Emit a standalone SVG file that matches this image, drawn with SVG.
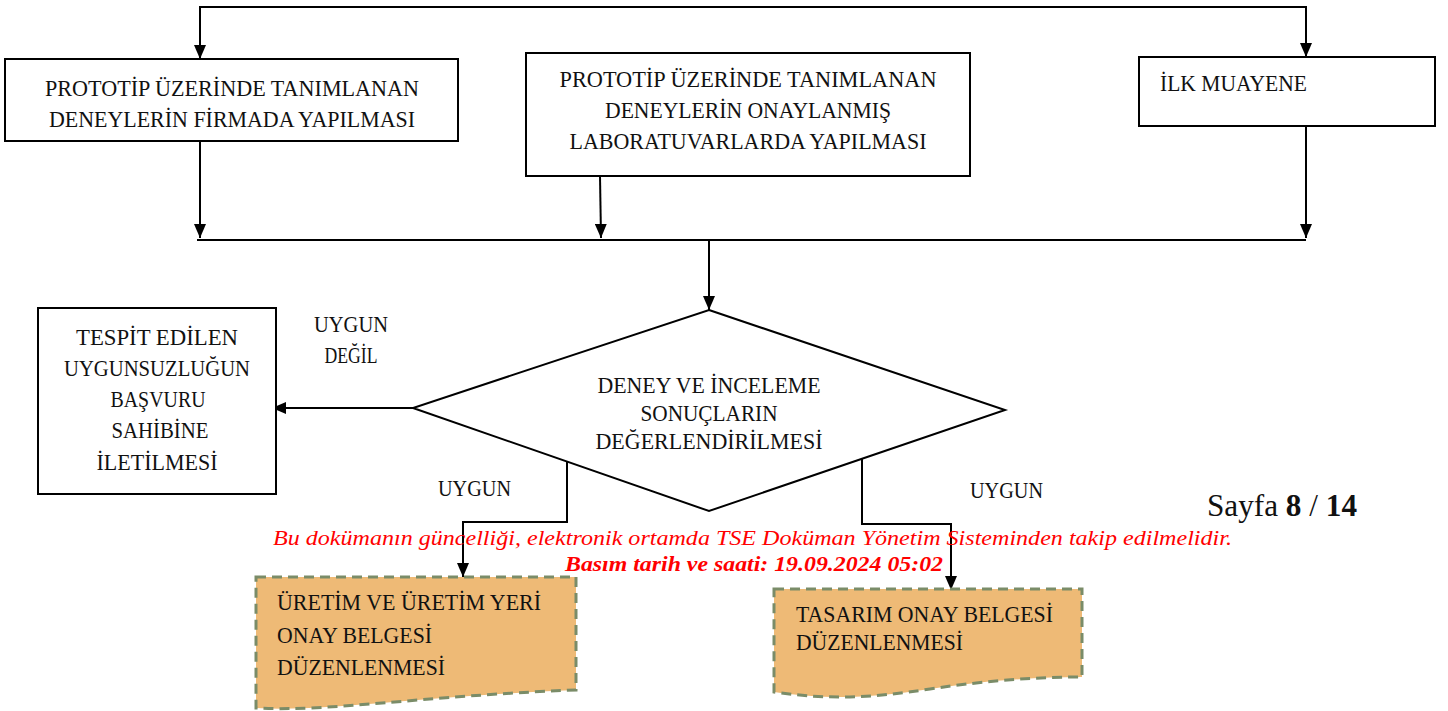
<svg xmlns="http://www.w3.org/2000/svg" width="1448" height="711" viewBox="0 0 1448 711">
<style>
.box{fill:#fff;stroke:#000;stroke-width:2}
.doc{fill:#EEBA76;stroke:#7A8C68;stroke-width:3;stroke-dasharray:10 6}
.t{font-family:"Liberation Serif",serif;font-size:24px;fill:#111}
.c{text-anchor:middle}
.ln{fill:none;stroke:#000;stroke-width:2}
.red{font-family:"Liberation Serif",serif;font-style:italic;font-size:22px;fill:#f00}
</style>
<defs>
<marker id="ah" markerUnits="userSpaceOnUse" markerWidth="14" markerHeight="12" viewBox="0 0 14 12" refX="14" refY="6" orient="auto">
<path d="M0,0 L14,6 L0,12 Z" fill="#000"/>
</marker>
</defs>
<rect width="1448" height="711" fill="#fff"/>
<g id="connectors">
<path class="ln" d="M200,7 V59" marker-end="url(#ah)"/>
<path class="ln" d="M199,7 H1306 V57" marker-end="url(#ah)"/>
<path class="ln" d="M200,141 V238" marker-end="url(#ah)"/>
<path class="ln" d="M600,176 L601,238" marker-end="url(#ah)"/>
<path class="ln" d="M1306,126 V238" marker-end="url(#ah)"/>
<path class="ln" d="M197,240 H1306"/>
<path class="ln" d="M709,241 V310" marker-end="url(#ah)"/>
<path class="ln" d="M413,408 H272" marker-end="url(#ah)"/>
<path class="ln" d="M567,462 V522 H463 V577" marker-end="url(#ah)"/>
<path class="ln" d="M862,457 V524 H951 V590" marker-end="url(#ah)"/>
</g>
<g id="n1">
<rect class="box" x="5" y="59" width="453" height="82"/>
<text class="t c" x="232" y="96" textLength="374" lengthAdjust="spacingAndGlyphs">PROTOTİP ÜZERİNDE TANIMLANAN</text>
<text class="t c" x="232" y="127" textLength="366" lengthAdjust="spacingAndGlyphs">DENEYLERİN FİRMADA YAPILMASI</text>
</g>
<g id="n2">
<rect class="box" x="526" y="53" width="444" height="123"/>
<text class="t c" x="748" y="87" textLength="377" lengthAdjust="spacingAndGlyphs">PROTOTİP ÜZERİNDE TANIMLANAN</text>
<text class="t c" x="748" y="118" textLength="286" lengthAdjust="spacingAndGlyphs">DENEYLERİN ONAYLANMIŞ</text>
<text class="t c" x="748" y="149" textLength="357" lengthAdjust="spacingAndGlyphs">LABORATUVARLARDA YAPILMASI</text>
</g>
<g id="n3">
<rect class="box" x="1139" y="57" width="296" height="69"/>
<text class="t" x="1160" y="91" textLength="147" lengthAdjust="spacingAndGlyphs">İLK MUAYENE</text>
</g>
<g id="n4">
<path class="box" d="M709,310 L1005,410 L709,511 L413,408 Z"/>
<text class="t c" x="709" y="393" textLength="223" lengthAdjust="spacingAndGlyphs">DENEY VE İNCELEME</text>
<text class="t c" x="709" y="421" textLength="137" lengthAdjust="spacingAndGlyphs">SONUÇLARIN</text>
<text class="t c" x="709" y="449" textLength="227" lengthAdjust="spacingAndGlyphs">DEĞERLENDİRİLMESİ</text>
</g>
<g id="n5">
<rect class="box" x="38" y="308" width="238" height="186"/>
<text class="t c" x="157" y="345" textLength="162" lengthAdjust="spacingAndGlyphs">TESPİT EDİLEN</text>
<text class="t c" x="157" y="376" textLength="186" lengthAdjust="spacingAndGlyphs">UYGUNSUZLUĞUN</text>
<text class="t c" x="158" y="407" textLength="95" lengthAdjust="spacingAndGlyphs">BAŞVURU</text>
<text class="t c" x="160" y="438" textLength="97" lengthAdjust="spacingAndGlyphs">SAHİBİNE</text>
<text class="t c" x="157" y="470" textLength="121" lengthAdjust="spacingAndGlyphs">İLETİLMESİ</text>
</g>
<g id="labels">
<text class="t c" x="351" y="332" textLength="74" lengthAdjust="spacingAndGlyphs">UYGUN</text>
<text class="t c" x="351" y="363" textLength="53" lengthAdjust="spacingAndGlyphs">DEĞİL</text>
<text class="t" x="438" y="496" textLength="73" lengthAdjust="spacingAndGlyphs">UYGUN</text>
<text class="t" x="970" y="498" textLength="73" lengthAdjust="spacingAndGlyphs">UYGUN</text>
</g>
<g id="n6">
<path class="doc" d="M256,577 H576 V690 C420,696 330,712 256,708 Z"/>
<text class="t" x="277" y="610" textLength="264" lengthAdjust="spacingAndGlyphs">ÜRETİM VE ÜRETİM YERİ</text>
<text class="t" x="277" y="643" textLength="155" lengthAdjust="spacingAndGlyphs">ONAY BELGESİ</text>
<text class="t" x="277" y="675" textLength="168" lengthAdjust="spacingAndGlyphs">DÜZENLENMESİ</text>
</g>
<g id="n7">
<path class="doc" d="M774,589 H1082 V677 C1040,677 990,680 930,689 C870,698 830,700 774,692 Z"/>
<text class="t" x="796" y="622" textLength="257" lengthAdjust="spacingAndGlyphs">TASARIM ONAY BELGESİ</text>
<text class="t" x="796" y="650" textLength="167" lengthAdjust="spacingAndGlyphs">DÜZENLENMESİ</text>
</g>
<g id="footer">
<text class="red" x="273" y="545" textLength="959" lengthAdjust="spacingAndGlyphs">Bu dokümanın güncelliği, elektronik ortamda TSE Doküman Yönetim Sisteminden takip edilmelidir.</text>
<text class="red" x="565" y="571" font-weight="bold" textLength="378" lengthAdjust="spacingAndGlyphs">Basım tarih ve saati: 19.09.2024 05:02</text>
<text class="t" x="1207" y="516" style="font-size:31px" textLength="150" lengthAdjust="spacingAndGlyphs">Sayfa <tspan font-weight="bold">8</tspan> / <tspan font-weight="bold">14</tspan></text>
</g>
</svg>
